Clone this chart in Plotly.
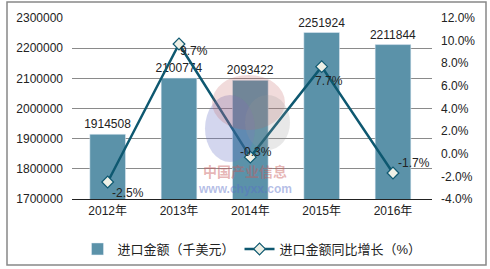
import plotly.graph_objects as go

years = ["2012年", "2013年", "2014年", "2015年", "2016年"]
import_values = [1914508, 2100774, 2093422, 2251924, 2211844]
growth_pct = [-2.5, 9.7, -0.3, 7.7, -1.7]
left_ticks = [1700000, 1800000, 1900000, 2000000, 2100000, 2200000, 2300000]
right_ticks = [-4, -2, 0, 2, 4, 6, 8, 10, 12]
bar_name = "进口金额（千美元）"
line_name = "进口金额同比增长（%）"

FONT = "Liberation Sans, Arial, Noto Sans CJK SC, sans-serif"
BAR_C = "#5B92A9"
LINE_C = "#0E5870"

# plot-area pixel geometry helpers
L, R, T, B = 72, 432, 18, 199
def px(x):
    return (x - L) / (R - L)
def py(y):
    return (B - y) / (B - T)

fig = go.Figure()
fig.add_trace(go.Bar(
    x=years, y=import_values, name=bar_name, marker_color=BAR_C,
    text=[str(v) for v in import_values], textposition="outside",
    constraintext="none",
    textfont=dict(size=12, color="#222"), cliponaxis=False,
))
fig.add_trace(go.Scatter(
    x=years, y=growth_pct, name=line_name, yaxis="y2", mode="lines+markers",
    line=dict(color=LINE_C, width=2.5),
    marker=dict(symbol="diamond", size=9, color="#EEF0E6", line=dict(color=LINE_C, width=1.2)),
))

# label offsets (pixels) for the line labels
offs = [(20, -11), (15, -7), (6, 5), (7, -14), (21, 10)]
for xv, yv, (dx, dy) in zip(years, growth_pct, offs):
    fig.add_annotation(x=xv, y=yv, xref="x", yref="y2", text=f"{yv:.1f}%",
                       showarrow=False, xshift=dx, yshift=dy,
                       font=dict(size=12, color="#222", family=FONT))

# watermark (faint)
fig.add_shape(type="circle", xref="paper", yref="paper",
              x0=px(205), x1=px(255), y0=py(162), y1=py(95),
              fillcolor="rgba(110,120,200,0.30)", line_width=0, layer="above")
fig.add_shape(type="circle", xref="paper", yref="paper",
              x0=px(212), x1=px(285), y0=py(130), y1=py(75),
              fillcolor="rgba(190,90,90,0.22)", line_width=0, layer="above")
fig.add_shape(type="circle", xref="paper", yref="paper",
              x0=px(245), x1=px(290), y0=py(150), y1=py(95),
              fillcolor="rgba(150,150,150,0.22)", line_width=0, layer="above")
fig.add_annotation(x=px(245), y=py(170.5), xref="paper", yref="paper",
                   xanchor="center", yanchor="middle",
                   text="<b>中国产业信息</b>", showarrow=False,
                   font=dict(size=14, color="rgba(200,90,90,0.45)", family="Noto Sans CJK SC"))
fig.add_annotation(x=px(245), y=py(189), xref="paper", yref="paper",
                   xanchor="center", yanchor="middle",
                   text="<b>www.chyxx.com</b>", showarrow=False,
                   font=dict(size=12, color="rgba(90,110,200,0.45)", family=FONT))

# outer border
fig.add_shape(type="rect", xref="paper", yref="paper",
              x0=px(7), x1=px(486), y0=py(265), y1=py(2),
              line=dict(color="#888888", width=1.5), fillcolor="rgba(0,0,0,0)")

fig.update_layout(
    width=490, height=269,
    margin=dict(l=L, r=490 - R, t=T, b=269 - B, autoexpand=False),
    paper_bgcolor="white", plot_bgcolor="white",
    font=dict(family=FONT, size=12, color="#222"),
    bargap=0.5,
    showlegend=True,
    legend=dict(orientation="h", x=0.5, xanchor="center", yref="container",
                y=(269 - 234) / 269, yanchor="top",
                font=dict(size=13, color="#222"), itemwidth=30, traceorder="normal"),
    xaxis=dict(showline=True, linecolor="#222", linewidth=1.2, ticks="", showgrid=False,
               tickfont=dict(size=12)),
    yaxis=dict(range=[1700000, 2300000], tickvals=left_ticks, ticktext=[str(v) for v in left_ticks],
               showgrid=True, gridcolor="#8A8A8A", gridwidth=1, zeroline=False,
               ticks="", ticklabelstandoff=8, showline=False),
    yaxis2=dict(range=[-4, 12], tickvals=right_ticks, ticktext=[f"{v:.1f}%" for v in right_ticks],
                overlaying="y", side="right", showgrid=False, zeroline=False, ticks="",
                ticklabelstandoff=8, showline=False),
)

fig.write_html("out.html")
